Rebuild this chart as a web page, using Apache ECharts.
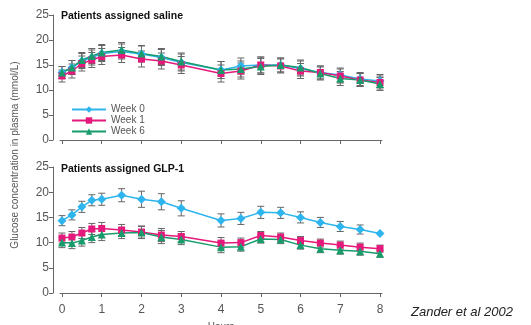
<!DOCTYPE html>
<html><head><meta charset="utf-8">
<script src="https://cdn.jsdelivr.net/npm/echarts@6/dist/echarts.min.js"></script>
<style>html,body{margin:0;padding:0;background:#fff}#c{width:531px;height:325px}</style>
</head><body><div id="c"></div>
<script>
const hours = [0,0.25,0.5,0.75,1,1.5,2,2.5,3,4,4.5,5,5.5,6,6.5,7,7.5,8];
const seriesNames = ['Week 0','Week 1','Week 6'];
const yTicks = [0,5,10,15,20,25];
const xTicks = [0,1,2,3,4,5,6,7,8];
// Saline panel
const salineW0 = [13.5,14.5,15.8,16.5,17.3,17.7,17.2,16.5,15.5,14.0,14.8,15.0,15.0,14.3,13.5,13.0,12.2,11.8];
const salineW1 = [12.8,13.8,15.3,16.0,16.7,17.0,16.2,15.8,15.0,13.3,13.8,15.0,14.8,13.8,13.5,12.8,12.0,11.5];
const salineW6 = [13.5,14.5,16.0,16.8,17.5,18.0,17.3,16.7,15.7,14.0,14.2,14.7,15.0,14.5,13.3,12.3,12.0,11.2];
const salineErr = [1.2,1.4,1.5,1.5,1.6,1.5,1.6,1.6,1.7,1.7,1.6,1.6,1.4,1.5,1.3,1.4,1.3,1.3];
// GLP-1 panel
const glpW0 = [14.35,15.5,17.1,18.4,18.6,19.4,18.6,18.1,16.8,14.4,14.8,16.0,15.9,15.0,14.0,13.2,12.6,11.8];
const glpW1 = [10.9,11.1,11.9,12.7,12.8,12.5,12.1,11.5,11.2,9.9,10.0,11.4,11.1,10.4,9.9,9.5,9.1,8.8];
const glpW6 = [10.0,9.9,10.4,11.1,11.6,11.9,12.0,11.1,10.6,9.1,9.2,10.7,10.6,9.5,8.8,8.5,8.3,7.8];
const glpErr0 = [1.0,1.0,1.1,1.1,1.2,1.3,1.6,1.6,1.5,1.3,1.2,1.2,1.1,1.1,1.0,1.0,0.9,0];
const glpErr = [1.0,1.1,1.1,1.1,1.2,1.1,1.2,1.3,1.0,1.1,0.9,0.8,0.8,0.8,0.8,0.8,0.8,0.7];

const colors = ['#2eb5ee','#e4197b','#189c6b'];
const symbols = ['diamond','rect','triangle'];
const symSizes = [9,7,8];
const FONT = 'Liberation Sans';
const AX = '#666';

function lineSeries(i, data, gi){
  return {type:'line', name:seriesNames[i], xAxisIndex:gi, yAxisIndex:gi,
    data:hours.map((h,k)=>[h,data[k]]), color:colors[i], symbol:symbols[i], symbolSize:symSizes[i],
    showAllSymbol:true, lineStyle:{width:1.5,color:colors[i]}, itemStyle:{color:colors[i]}, z:3, animation:false};
}
function errSeries(data, err, gi){
  return {type:'custom', xAxisIndex:gi, yAxisIndex:gi, z:2, animation:false, silent:true,
    data:hours.map((h,k)=>[h,data[k]-err[k],data[k]+err[k]]),
    renderItem:function(params, api){
      const x = api.value(0), lo = api.value(1), hi = api.value(2);
      if (hi-lo < 0.01) return null;
      const p1 = api.coord([x,lo]), p2 = api.coord([x,hi]);
      const w = 3.5;
      const st = {stroke:'#666', lineWidth:1};
      return {type:'group', children:[
        {type:'line', shape:{x1:p1[0],y1:p1[1],x2:p2[0],y2:p2[1]}, style:st},
        {type:'line', shape:{x1:p1[0]-w,y1:p1[1],x2:p1[0]+w,y2:p1[1]}, style:st},
        {type:'line', shape:{x1:p2[0]-w,y1:p2[1],x2:p2[0]+w,y2:p2[1]}, style:st}
      ]};
    }};
}
function xAx(gi, showLabels){
  return {type:'value', gridIndex:gi, min:-0.05, max:8.05, offset: gi===0?8:6,
    splitLine:{show:false},
    axisLine:{lineStyle:{color:AX,width:1}},
    axisTick:{show:true, length:4, lineStyle:{color:AX}, customValues:xTicks},
    axisLabel:{show:showLabels, color:'#555', fontSize:12, fontFamily:FONT, margin:5, customValues:xTicks},
    name: showLabels?'Hours':'', nameLocation:'middle', nameGap:23,
    nameTextStyle:{color:'#555', fontSize:10, fontFamily:FONT}};
}
function yHidden(gi){
  return {type:'value', gridIndex:gi, min:0, max:25, show:false};
}
function yShown(gi){
  return {type:'value', gridIndex:gi, min:0, max:25, interval:5,
    splitLine:{show:false},
    axisLine:{show:true, lineStyle:{color:AX,width:1}},
    axisTick:{show:true, length:4, lineStyle:{color:AX}},
    axisLabel:{color:'#555', fontSize:12, fontFamily:FONT, margin:4}};
}
function xDummy(gi){
  return {type:'value', gridIndex:gi, min:0, max:1, show:false};
}
const option = {
  animation:false,
  grid:[{left:60, top:15, width:322, height:125, outerBoundsMode:'none', containLabel:false},
        {left:60, top:167, width:322, height:126, outerBoundsMode:'none', containLabel:false},
        {left:53, top:15, width:1, height:125, outerBoundsMode:'none', containLabel:false},
        {left:53, top:167, width:1, height:126, outerBoundsMode:'none', containLabel:false}],
  xAxis:[xAx(0,false), xAx(1,true), xDummy(2), xDummy(3)],
  yAxis:[yHidden(0), yHidden(1), yShown(2), yShown(3)],
  legend:{show:true, orient:'vertical', left:71, top:104, padding:0, itemGap:0, itemWidth:34, itemHeight:8,
    data:seriesNames, textStyle:{color:'#555', fontSize:10, fontFamily:FONT, lineHeight:11}},
  series:[
    errSeries(salineW0, salineErr, 0), errSeries(salineW1, salineErr, 0), errSeries(salineW6, salineErr, 0),
    lineSeries(0, salineW0, 0), lineSeries(1, salineW1, 0), lineSeries(2, salineW6, 0),
    errSeries(glpW0, glpErr0, 1), errSeries(glpW1, glpErr, 1), errSeries(glpW6, glpErr, 1),
    lineSeries(0, glpW0, 1), lineSeries(1, glpW1, 1), lineSeries(2, glpW6, 1)
  ],
  graphic:[
    {type:'text', left:61, top:11, style:{text:'Patients assigned saline', fill:'#111', font:'bold 10.5px '+FONT}},
    {type:'text', left:61, top:164, style:{text:'Patients assigned GLP-1', fill:'#111', font:'bold 10.5px '+FONT}},
    {type:'text', x:15, y:155, rotation:Math.PI/2, style:{text:'Glucose concentration in plasma (mmol/L)', fill:'#555', font:'10px '+FONT, align:'center', verticalAlign:'middle'}},
    {type:'text', left:411, top:306, style:{text:'Zander et al 2002', fill:'#222', font:'italic 13px '+FONT}}
  ]
};
const chart = echarts.init(document.getElementById('c'), null, {renderer:'canvas'});
chart.setOption(option);
</script></body></html>
